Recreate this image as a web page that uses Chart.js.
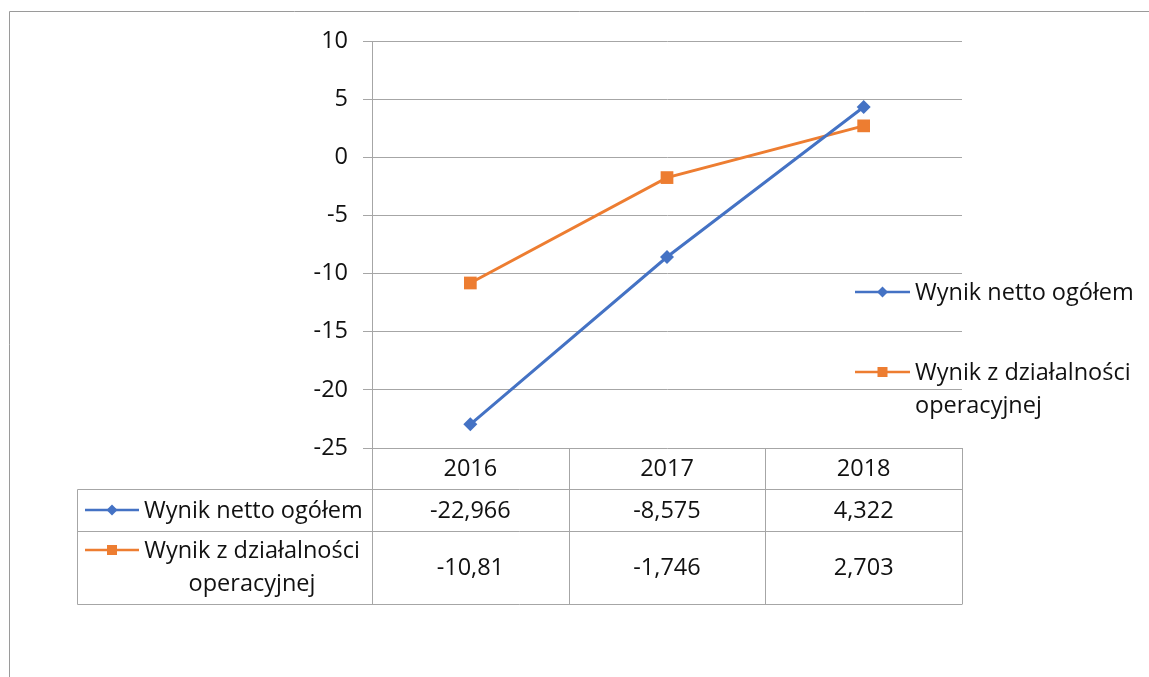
<!DOCTYPE html>
<html>
<head>
<meta charset="utf-8">
<script src="https://cdn.jsdelivr.net/npm/chart.js@4"></script>
<style>
  html, body { margin: 0; padding: 0; background: #fff; }
  #chart { display: block; }
</style>
</head>
<body>
<canvas id="chart" width="1149" height="677"></canvas>
<script>
// Data
const years = ['2016', '2017', '2018'];
const netResult = [-22.966, -8.575, 4.322];
const operatingResult = [-10.81, -1.746, 2.703];
const seriesNames = [['Wynik netto ogółem'], ['Wynik z działalności', 'operacyjnej']];
const yMin = -25;
const yMax = 10;
const yStep = 5;

const blue = '#4472C4';
const orange = '#ED7D31';
const gridGray = '#a6a6a6';
const textColor = '#111111';
const font = '"Open Sans", "Liberation Sans", sans-serif';
const fontSize = 23.5;

// polish number format, e.g. -22,966
function fmt(v) {
    return String(v).replace('.', ',');
}

function drawKey(ctx, x1, x2, y, color, style) {
    ctx.save();
    ctx.strokeStyle = color;
    ctx.lineWidth = 2.5;
    ctx.beginPath();
    ctx.moveTo(x1, y);
    ctx.lineTo(x2, y);
    ctx.stroke();
    ctx.fillStyle = color;
    const cx = (x1 + x2) / 2;
    if (style === 'rectRot') {
        ctx.beginPath();
        ctx.moveTo(cx, y - 5.5);
        ctx.lineTo(cx + 5.5, y);
        ctx.lineTo(cx, y + 5.5);
        ctx.lineTo(cx - 5.5, y);
        ctx.closePath();
        ctx.fill();
    } else {
        ctx.fillRect(cx - 5, y - 5, 10, 10);
    }
    ctx.restore();
}

// frame, data table and side legend
const tablePlugin = {
    id: 'dataTable',
    beforeDraw(chart) {
        const ctx = chart.ctx;
        ctx.save();
        ctx.strokeStyle = '#9a9a9a';
        ctx.lineWidth = 1;
        ctx.beginPath();
        ctx.moveTo(9.5, 677);
        ctx.lineTo(9.5, 11.5);
        ctx.lineTo(1149, 11.5);
        ctx.stroke();
        ctx.restore();
    },
    afterDraw(chart) {
        const ctx = chart.ctx;
        const area = chart.chartArea;
        const xs = chart.scales.x;
        const rows = [netResult, operatingResult];

        const top = area.bottom;
        const rowLines = [top, top + 41, top + 83, top + 156];
        const tableLeft = 77.5;
        const half = (xs.getPixelForValue(1) - xs.getPixelForValue(0)) / 2;

        ctx.save();
        ctx.strokeStyle = gridGray;
        ctx.lineWidth = 1;
        ctx.beginPath();
        // horizontal lines
        for (let i = 1; i < rowLines.length; i++) {
            const y = Math.round(rowLines[i]) + 0.5;
            ctx.moveTo(tableLeft, y);
            ctx.lineTo(area.right, y);
        }
        // left edge of the series rows
        ctx.moveTo(tableLeft, Math.round(rowLines[1]) + 0.5);
        ctx.lineTo(tableLeft, Math.round(rowLines[3]) + 0.5);
        // column separators
        const bounds = [area.left];
        years.forEach((y, i) => bounds.push(xs.getPixelForValue(i) + half));
        bounds[bounds.length - 1] = area.right;
        bounds.forEach(bx => {
            const x = Math.round(bx) + 0.5;
            ctx.moveTo(x, top);
            ctx.lineTo(x, Math.round(rowLines[3]) + 0.5);
        });
        ctx.stroke();

        ctx.fillStyle = textColor;
        ctx.font = fontSize + 'px ' + font;
        ctx.textBaseline = 'middle';
        ctx.textAlign = 'center';
        // header
        years.forEach((y, i) => {
            ctx.fillText(y, xs.getPixelForValue(i), (rowLines[0] + rowLines[1]) / 2 + 1);
        });
        // values
        rows.forEach((vals, r) => {
            const cy = (rowLines[r + 1] + rowLines[r + 2]) / 2 + 1;
            vals.forEach((v, i) => ctx.fillText(fmt(v), xs.getPixelForValue(i), cy));
        });

        // row headers with keys
        drawKey(ctx, 85, 139, 510, blue, 'rectRot');
        ctx.textAlign = 'left';
        ctx.fillText(seriesNames[0][0], 144, 511);
        drawKey(ctx, 85, 139, 550, orange, 'rect');
        ctx.textAlign = 'center';
        ctx.fillText(seriesNames[1][0], 252, 551);
        ctx.fillText(seriesNames[1][1], 252, 584);

        // side legend
        drawKey(ctx, 855, 910, 292, blue, 'rectRot');
        drawKey(ctx, 855, 910, 372, orange, 'rect');
        ctx.textAlign = 'left';
        ctx.fillText(seriesNames[0][0], 915, 293);
        ctx.fillText(seriesNames[1][0], 915, 373);
        ctx.fillText(seriesNames[1][1], 915, 406);
        ctx.restore();
    }
};

new Chart(document.getElementById('chart'), {
    type: 'line',
    data: {
        labels: years,
        datasets: [{
            label: seriesNames[0].join(' '),
            data: netResult,
            borderColor: blue,
            backgroundColor: blue,
            borderWidth: 3,
            pointStyle: 'rectRot',
            pointRadius: 7,
            pointBorderWidth: 0,
            tension: 0
        }, {
            label: seriesNames[1].join(' '),
            data: operatingResult,
            borderColor: orange,
            backgroundColor: orange,
            borderWidth: 3,
            pointStyle: 'rect',
            pointRadius: 9,
            pointBorderWidth: 0,
            tension: 0
        }]
    },
    options: {
        responsive: false,
        animation: false,
        events: [],
        layout: { padding: { left: 312, right: 187, top: 41, bottom: 229 } },
        plugins: {
            legend: { display: false },
            tooltip: { enabled: false }
        },
        scales: {
            x: {
                display: false,
                offset: true
            },
            y: {
                min: yMin,
                max: yMax,
                ticks: {
                    stepSize: yStep,
                    padding: 15,
                    color: textColor,
                    font: { family: font, size: fontSize }
                },
                grid: { color: gridGray, tickLength: 9 },
                border: { color: gridGray },
                afterFit(scale) { scale.width = 60; }
            }
        }
    },
    plugins: [tablePlugin]
});
</script>
</body>
</html>
